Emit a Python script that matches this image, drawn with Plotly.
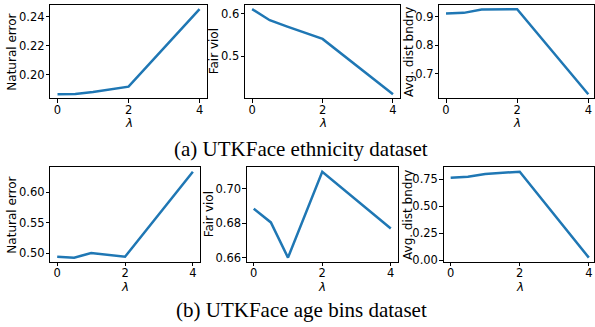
import plotly.graph_objects as go

lam = [0, 0.5, 1, 2, 4]
eth_nat_err = [0.1866, 0.1868, 0.1882, 0.1918, 0.2454]
eth_fair_viol = [0.611, 0.585, 0.570, 0.541, 0.411]
eth_dist = [0.912, 0.914, 0.926, 0.927, 0.628]
age_nat_err = [0.4945, 0.4930, 0.5005, 0.4945, 0.6335]
age_fair_viol = [0.6885, 0.6805, 0.6600, 0.7100, 0.6770]
age_dist = [0.765, 0.775, 0.800, 0.822, 0.024]

ylabels = ["Natural error", "Fair viol", "Avg. dist bndry"] * 2
tickvals = [[0.20, 0.22, 0.24], [0.5, 0.6], [0.7, 0.8, 0.9],
            [0.50, 0.55, 0.60], [0.66, 0.68, 0.70], [0.00, 0.25, 0.50, 0.75]]
tickfmts = [".2f", ".1f", ".1f", ".2f", ".2f", ".2f"]
captions = ["(a) UTKFace ethnicity dataset", "(b) UTKFace age bins dataset"]
xticks = [0, 2, 4]

series = [eth_nat_err, eth_fair_viol, eth_dist, age_nat_err, age_fair_viol, age_dist]

W, H = 595, 327
# pixel layout: (left, right, top, bottom, ylabel_x)
boxes = [
    (50.5, 207.0, 5, 100, 12),
    (245.5, 400.7, 5, 100, 214),
    (440.0, 595.0, 5, 100, 409),
    (50.5, 200.0, 170, 266, 12),
    (247.3, 398.3, 170, 266, 209),
    (444.5, 595.0, 170, 266, 408),
]
xranges = [[-0.2, 4.2], [-0.2, 4.2], [-0.19, 4.16],
           [-0.2, 4.2], [-0.2, 4.2], [-0.2, 4.15]]

fig = go.Figure()
layout = dict(width=W, height=H, margin=dict(l=0, r=0, t=0, b=0),
              paper_bgcolor="white", plot_bgcolor="white", showlegend=False,
              font=dict(family="DejaVu Sans", size=11, color="black"))
annotations = []
for i, (vals, box) in enumerate(zip(series, boxes)):
    l, r, t, b, ylx = box
    n = "" if i == 0 else str(i + 1)
    fig.add_trace(go.Scatter(x=lam, y=vals, mode="lines",
                             line=dict(color="#1f77b4", width=2.5),
                             xaxis="x" + n, yaxis="y" + n, cliponaxis=True))
    lo, hi = min(vals), max(vals)
    pad = 0.05 * (hi - lo)
    common = dict(showline=True, mirror=True, linecolor="black", linewidth=1,
                  ticks="outside", ticklen=3.5, tickwidth=0.8, tickcolor="black",
                  showgrid=False, zeroline=False, tickfont=dict(size=11.5))
    layout["xaxis" + n] = dict(domain=[l / W, r / W], range=xranges[i],
                               tickvals=xticks, anchor="y" + n,
                               ticklabelstandoff=-3, **common)
    layout["yaxis" + n] = dict(domain=[1 - b / H, 1 - t / H], range=[lo - pad, hi + pad],
                               tickvals=tickvals[i], tickformat=tickfmts[i],
                               anchor="x" + n, ticklabelstandoff=-1, **common)
    annotations.append(dict(text=ylabels[i], x=ylx / W, y=1 - (t + b) / 2 / H,
                            xref="paper", yref="paper", textangle=-90,
                            showarrow=False, font=dict(size=12),
                            xanchor="center", yanchor="middle"))
    # lambda label centred at data x=2
    x2 = l + (2 - xranges[i][0]) / (xranges[i][1] - xranges[i][0]) * (r - l)
    annotations.append(dict(text="<i>λ</i>", x=x2 / W, y=1 - (b + 25) / H,
                            xref="paper", yref="paper", showarrow=False,
                            font=dict(size=12), xanchor="center", yanchor="middle",
                            borderpad=0))

for cap, cy in zip(captions, [151, 315]):
    annotations.append(dict(text=cap, x=302 / W, y=1 - cy / H, xref="paper", yref="paper",
                            showarrow=False, xanchor="center", yanchor="middle",
                            font=dict(family="Liberation Serif", size=21, color="black")))

layout["annotations"] = annotations
fig.update_layout(**layout)
fig.write_html("out.html")
